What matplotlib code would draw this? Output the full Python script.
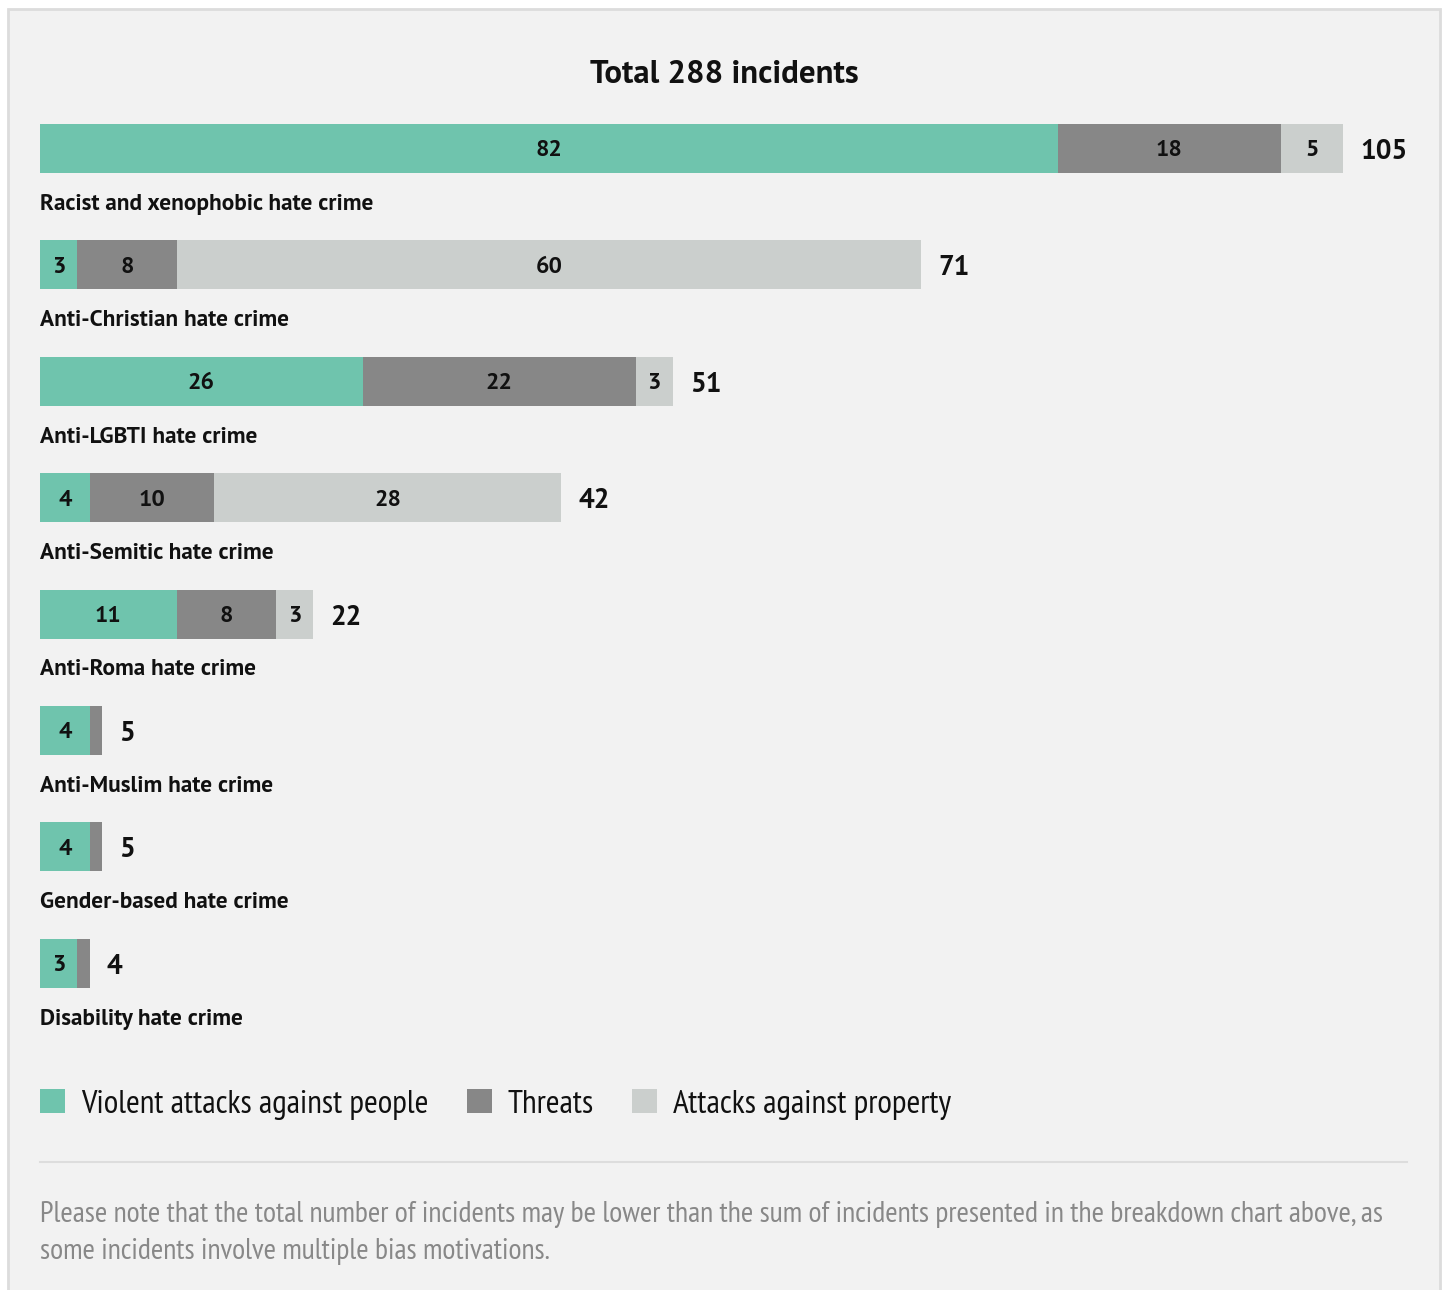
import matplotlib
matplotlib.use("Agg")
import matplotlib.pyplot as plt
from matplotlib.patches import Rectangle
import numpy as np

categories = [
    "Racist and xenophobic hate crime",
    "Anti-Christian hate crime",
    "Anti-LGBTI hate crime",
    "Anti-Semitic hate crime",
    "Anti-Roma hate crime",
    "Anti-Muslim hate crime",
    "Gender-based hate crime",
    "Disability hate crime",
]
violent = [82, 3, 26, 4, 11, 4, 4, 3]
threats = [18, 8, 22, 10, 8, 1, 1, 1]
property_ = [5, 60, 3, 28, 3, 0, 0, 0]
totals = [105, 71, 51, 42, 22, 5, 5, 4]
series_names = ["Violent attacks against people", "Threats", "Attacks against property"]
colors = ["#6fc4ad", "#878787", "#cbcfcd"]
title = "Total 288 incidents"
note = ("Please note that the total number of incidents may be lower than the sum of incidents presented in the breakdown chart above, as\n"
        "some incidents involve multiple bias motivations.")

BOLD = ["PT Sans", "DejaVu Sans"]
NARROW = ["PT Sans Narrow", "DejaVu Sans"]

W, H = 1447, 1290
fig = plt.figure(figsize=(W / 100, H / 100), dpi=100, facecolor="white")

# background / frame axes in pixel coordinates
bg = fig.add_axes([0, 0, 1, 1])
bg.set_xlim(0, W)
bg.set_ylim(H, 0)
bg.axis("off")
bg.add_patch(Rectangle((7.5, 8.5), 1432, 1300, facecolor="#f2f2f2", edgecolor="#dcdcdc", linewidth=2))
bg.text(724, 75, title, ha="center", va="center", fontsize=23.6, fontweight="bold", family=BOLD, color="#111111")

# legend
leg_x = [40, 467, 632]
for lx, name, c in zip(leg_x, series_names, colors):
    bg.add_patch(Rectangle((lx, 1089), 25, 24, facecolor=c, edgecolor="none"))
    bg.text(lx + 41, 1105, name, ha="left", va="center", fontsize=24, family=NARROW, color="#111111")

bg.plot([40, 1407], [1162, 1162], color="#dddddd", linewidth=1.5)
bg.text(40, 1233, note, ha="left", va="center", fontsize=21.5, family=NARROW,
        color="#888888", linespacing=1.45)

# chart axes
ax = fig.add_axes([0, 0, 1, 1])
ax.patch.set_alpha(0)
ax.axis("off")
px_per_unit = 1303 / 105
ax.set_xlim(-40 / px_per_unit, (W - 40) / px_per_unit)
row_px = 116.4
first_px = 148.5
ax.set_ylim((H - first_px) / row_px, -first_px / row_px)

y = np.arange(len(categories))
bar_h = 49 / row_px
left = np.zeros(len(categories))
for vals, c in zip([violent, threats, property_], colors):
    vals = np.array(vals, dtype=float)
    ax.barh(y, vals, left=left, height=bar_h, color=c, edgecolor="none")
    for yi, l, v in zip(y, left, vals):
        if v > 1:
            ax.text(l + v / 2, yi + 0.02, f"{int(v)}", ha="center", va="center",
                    fontsize=17, fontweight="bold", family=BOLD, color="#111111")
    left += vals

for yi, end, t in zip(y, left, totals):
    ax.annotate(f"{t}", (end, yi + 0.03), xytext=(17, 0), textcoords="offset pixels",
                ha="left", va="center", fontsize=20, fontweight="bold", family=BOLD, color="#111111")

for yi, cat in zip(y, categories):
    ax.text(0, yi + 0.48, cat, ha="left", va="center", fontsize=16.75, fontweight="bold",
            family=BOLD, color="#111111")

fig.savefig("out.png", dpi=100, facecolor="white")
